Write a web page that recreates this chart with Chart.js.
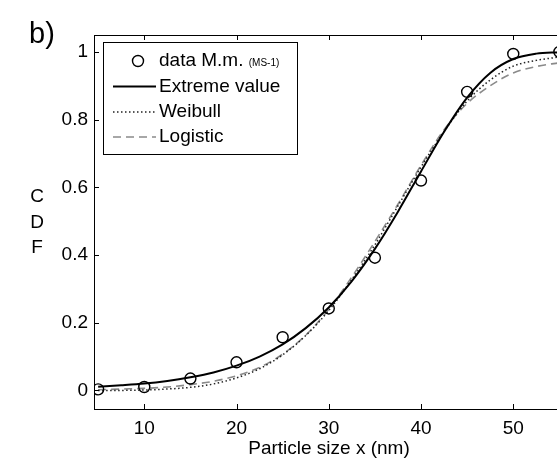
<!DOCTYPE html>
<html>
<head>
<meta charset="utf-8">
<script src="https://cdn.jsdelivr.net/npm/chart.js@4.4.1/dist/chart.umd.min.js"></script>
<style>
  html, body { margin: 0; padding: 0; background: #fff; overflow: hidden; }
  #wrap { position: relative; width: 557px; height: 458px; overflow: hidden; }
  #cdfChart { position: absolute; left: 0; top: 0; }
</style>
</head>
<body>
<div id="wrap"><canvas id="cdfChart" width="600" height="458"></canvas></div>
<script>
// measured cumulative fractions
const sizes = [5, 10, 15, 20, 25, 30, 35, 40, 45, 50, 55];
const measured = [0.003, 0.010, 0.035, 0.083, 0.157, 0.242, 0.392, 0.620, 0.882, 0.994, 1.0];

// fitted distribution curves
const curveX = [5, 7.5, 10, 12.5, 15, 17.5, 20, 22.5, 25, 27.5, 30, 32.5, 35, 37.5, 40, 42.5, 45, 47.5, 50, 52.5, 55];
const extremeValue = [0.011, 0.015, 0.020, 0.028, 0.039, 0.053, 0.073, 0.100, 0.136, 0.184, 0.245, 0.323, 0.418, 0.528, 0.647, 0.764, 0.865, 0.938, 0.979, 0.995, 0.999];
const weibull = [0.000, 0.000, 0.001, 0.004, 0.009, 0.019, 0.037, 0.064, 0.105, 0.162, 0.236, 0.328, 0.430, 0.545, 0.660, 0.765, 0.855, 0.917, 0.958, 0.975, 0.985];
const logistic = [0.002, 0.004, 0.006, 0.010, 0.017, 0.027, 0.043, 0.068, 0.107, 0.163, 0.240, 0.335, 0.440, 0.550, 0.665, 0.770, 0.848, 0.900, 0.938, 0.957, 0.968];

const xTicks = [10, 20, 30, 40, 50];
const yTicks = [0, 0.2, 0.4, 0.6, 0.8, 1];

const FONT = '"Liberation Sans", Arial, sans-serif';

function pts(xs, ys) {
    return xs.map((x, i) => ({ x: x, y: ys[i] }));
}

// box around the axes with inward tick marks on all four sides
const frameTicks = {
    id: 'frameTicks',
    afterDraw(chart) {
        const { ctx, chartArea: a, scales } = chart;
        ctx.save();
        ctx.strokeStyle = '#000';
        ctx.lineWidth = 1;
        ctx.strokeRect(a.left + 0.5, a.top + 0.5, a.right - a.left, a.bottom - a.top);
        ctx.beginPath();
        xTicks.forEach(v => {
            const px = Math.round(scales.x.getPixelForValue(v)) + 0.5;
            ctx.moveTo(px, a.bottom); ctx.lineTo(px, a.bottom - 5);
            ctx.moveTo(px, a.top); ctx.lineTo(px, a.top + 5);
        });
        yTicks.forEach(v => {
            const py = Math.round(scales.y.getPixelForValue(v)) + 0.5;
            ctx.moveTo(a.left, py); ctx.lineTo(a.left + 5, py);
            ctx.moveTo(a.right, py); ctx.lineTo(a.right - 5, py);
        });
        ctx.stroke();

        // panel letter and stacked y label
        ctx.fillStyle = '#000';
        ctx.font = '29px ' + FONT;
        ctx.textAlign = 'left';
        ctx.textBaseline = 'alphabetic';
        ctx.fillText('b)', 29, 43);
        ctx.font = '19px ' + FONT;
        ctx.textAlign = 'center';
        ctx.textBaseline = 'middle';
        ['C', 'D', 'F'].forEach((ch, i) => ctx.fillText(ch, 37, 197 + i * 25.5));
        ctx.restore();
    }
};

// legend box in the upper-left corner of the axes
const boxLegend = {
    id: 'boxLegend',
    afterDraw(chart) {
        const ctx = chart.ctx;
        const ds = chart.data.datasets;
        const left = 103, top = 42, w = 194, h = 112;
        const rows = [61, 86.5, 112, 137];
        ctx.save();
        ctx.fillStyle = '#fff';
        ctx.fillRect(left, top, w, h);
        ctx.strokeStyle = '#000';
        ctx.lineWidth = 1;
        ctx.strokeRect(left + 0.5, top + 0.5, w, h);

        // marker sample
        ctx.beginPath();
        ctx.arc(138, rows[0], ds[0].pointRadius, 0, Math.PI * 2);
        ctx.lineWidth = ds[0].borderWidth;
        ctx.strokeStyle = ds[0].borderColor;
        ctx.stroke();

        // line samples
        for (let i = 1; i < 4; i++) {
            ctx.beginPath();
            ctx.setLineDash(ds[i].borderDash || []);
            ctx.lineWidth = ds[i].borderWidth;
            ctx.strokeStyle = ds[i].borderColor;
            ctx.moveTo(113, rows[i]);
            ctx.lineTo(156, rows[i]);
            ctx.stroke();
        }
        ctx.setLineDash([]);

        ctx.fillStyle = '#000';
        ctx.textAlign = 'left';
        ctx.textBaseline = 'middle';
        ctx.font = '19px ' + FONT;
        ctx.fillText('data M.m.', 159, rows[0]);
        const wData = ctx.measureText('data M.m. ').width;
        ctx.font = '10px ' + FONT;
        ctx.fillText('(MS-1)', 159 + wData, rows[0] + 2);
        ctx.font = '19px ' + FONT;
        ctx.fillText('Extreme value', 159, rows[1]);
        ctx.fillText('Weibull', 159, rows[2]);
        ctx.fillText('Logistic', 159, rows[3]);
        ctx.restore();
    }
};

const ctx = document.getElementById('cdfChart').getContext('2d');
new Chart(ctx, {
    type: 'scatter',
    data: {
        datasets: [
            {
                label: 'data M.m. (MS-1)',
                data: pts(sizes, measured),
                showLine: false,
                pointStyle: 'circle',
                pointRadius: 5.5,
                pointBackgroundColor: 'rgba(0,0,0,0)',
                borderColor: '#000',
                borderWidth: 1.4,
                order: 0
            },
            {
                label: 'Extreme value',
                data: pts(curveX, extremeValue),
                showLine: true,
                pointRadius: 0,
                borderColor: '#000',
                borderWidth: 2,
                cubicInterpolationMode: 'monotone',
                order: 1
            },
            {
                label: 'Weibull',
                data: pts(curveX, weibull),
                showLine: true,
                pointRadius: 0,
                borderColor: '#222',
                borderWidth: 1.5,
                borderDash: [1.5, 2.5],
                cubicInterpolationMode: 'monotone',
                order: 2
            },
            {
                label: 'Logistic',
                data: pts(curveX, logistic),
                showLine: true,
                pointRadius: 0,
                borderColor: '#8a8a8a',
                borderWidth: 1.6,
                borderDash: [8, 5],
                cubicInterpolationMode: 'monotone',
                order: 3
            }
        ]
    },
    options: {
        responsive: false,
        animation: false,
        layout: { padding: { left: 0, top: 35, right: 36, bottom: 0 } },
        plugins: {
            legend: { display: false },
            tooltip: { enabled: false }
        },
        scales: {
            x: {
                type: 'linear',
                min: 4.55,
                max: 55.5,
                grid: { display: false, drawTicks: false },
                border: { display: false },
                afterBuildTicks: s => { s.ticks = xTicks.map(v => ({ value: v })); },
                afterFit: s => { s.height = 49; },
                ticks: {
                    padding: 8,
                    color: '#000',
                    font: { family: FONT, size: 19 },
                    callback: v => String(v)
                },
                title: {
                    display: true,
                    text: 'Particle size x (nm)',
                    color: '#000',
                    font: { family: FONT, size: 19 },
                    padding: { top: 0, bottom: -2 }
                }
            },
            y: {
                min: -0.055,
                max: 1.05,
                grid: { display: false, drawTicks: false },
                border: { display: false },
                afterBuildTicks: s => { s.ticks = yTicks.map(v => ({ value: v })); },
                afterFit: s => { s.width = 94; },
                ticks: {
                    padding: 6,
                    color: '#000',
                    font: { family: FONT, size: 19 },
                    callback: v => String(Math.round(v * 10) / 10)
                }
            }
        }
    },
    plugins: [frameTicks, boxLegend]
});
</script>
</body>
</html>
